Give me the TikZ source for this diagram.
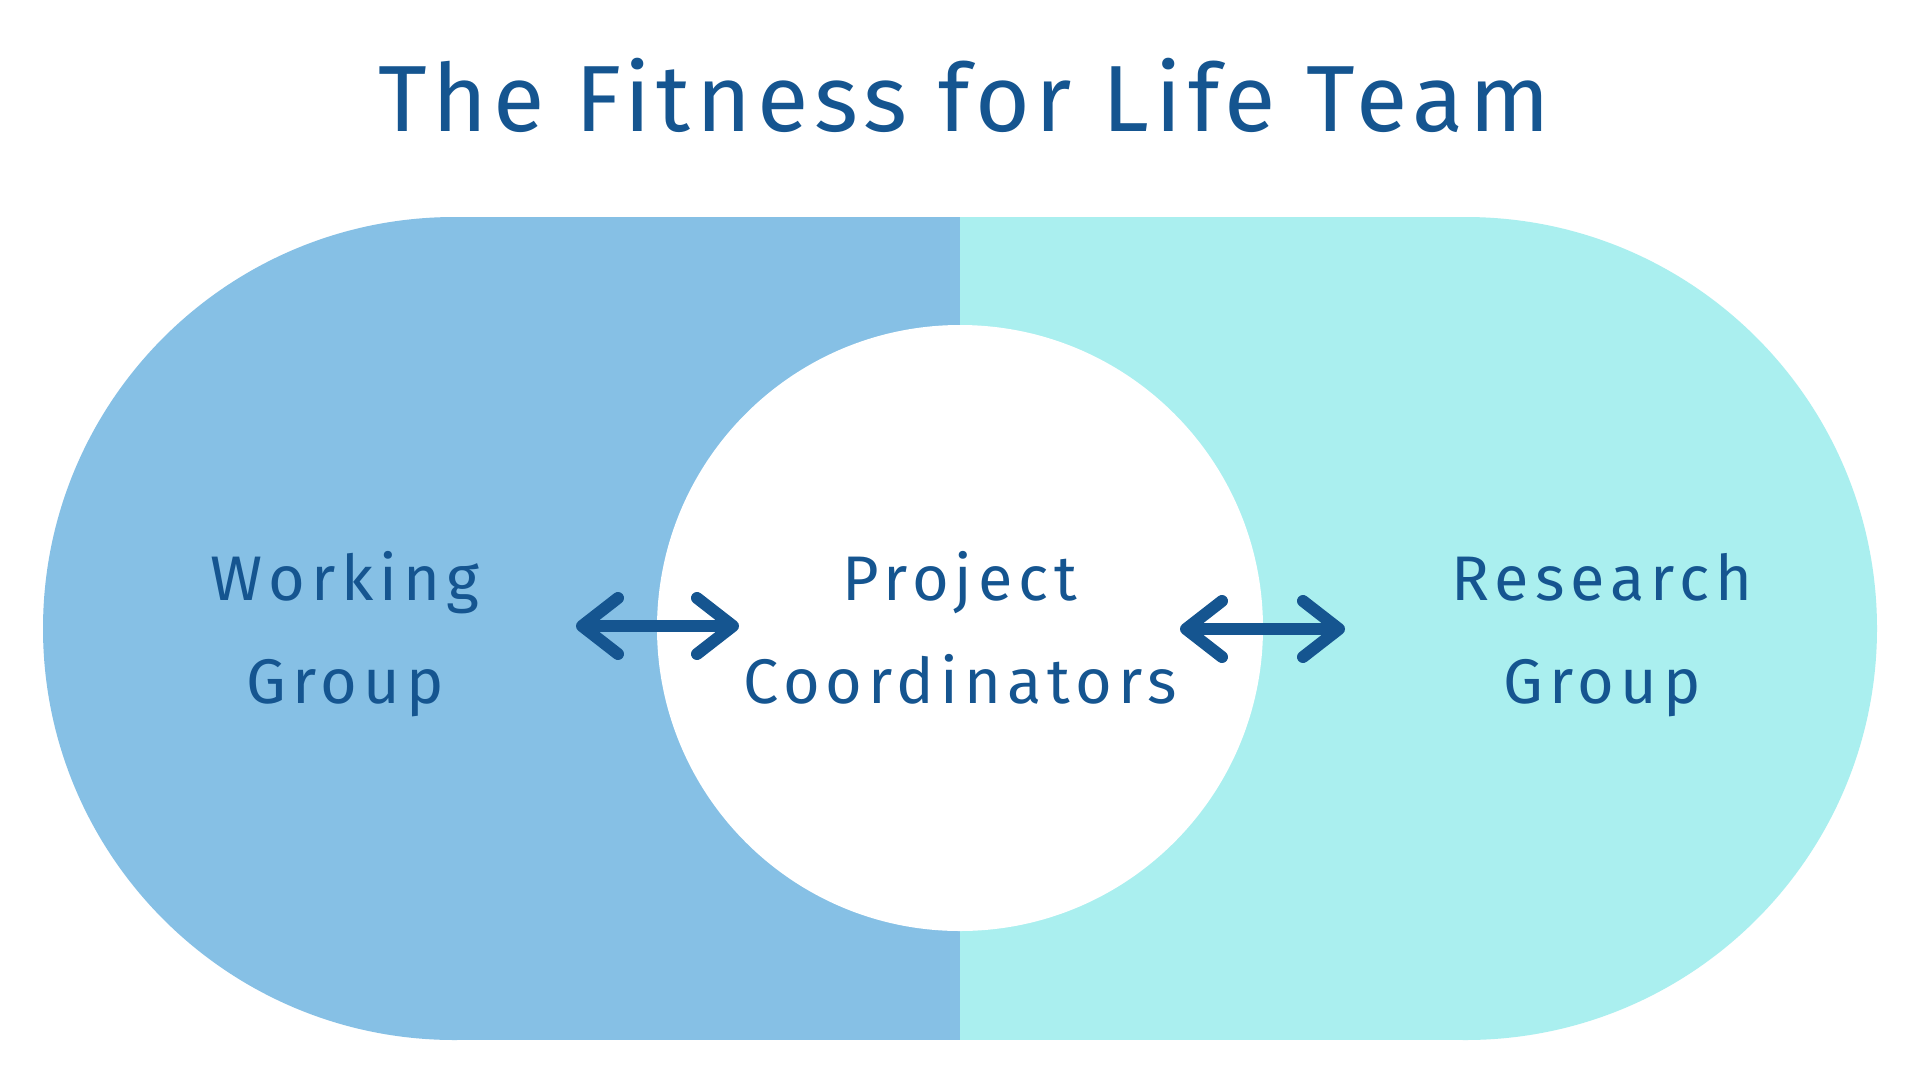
\documentclass[tikz,border=0pt]{standalone}
\usepackage{fontspec}
\newfontfamily\spaced{Fira Sans}[LetterSpace=9.5]
\newfontfamily\titlefont{Fira Sans}[LetterSpace=6.3]
\usetikzlibrary{arrows.meta}
\definecolor{txt}{HTML}{155590}
\definecolor{leftc}{HTML}{86C0E5}
\definecolor{rightc}{HTML}{AAEFEF}
\tikzset{
  label/.style={text=txt, align=center, inner sep=0pt, anchor=base, font=\spaced\fontsize{63}{103}\selectfont},
  twoarrow/.style={draw=txt, line width=12pt, line cap=round, line join=round,
    {Straight Barb[length=36pt, width=56pt, line cap=round, line join=round]}-{Straight Barb[length=36pt, width=56pt, line cap=round, line join=round]}}
}
\begin{document}
\begin{tikzpicture}[x=1pt,y=-1pt]
\useasboundingbox (0,0) rectangle (1920,1080);
\fill[white] (0,0) rectangle (1920,1080);
% left shape
\fill[leftc] (454.5,628.5) circle[radius=411.5];
\fill[leftc] (454.5,217) rectangle (960,1040);
% right shape
\fill[rightc] (1465.5,628.5) circle[radius=411.5];
\fill[rightc] (960,217) rectangle (1465.5,1040);
% center circle
\node[circle, fill=white, minimum size=606pt, inner sep=0pt] (pc) at (960,628) {};
% title
\node[text=txt, inner sep=0pt, anchor=base, font=\titlefont\fontsize{94}{100}\selectfont] (title) at (964,131) {The Fitness for Life Team};
% labels
\node[label] (wg) at (345,703) {Working\\Group};
\node[label] (pcl) at (960,703) {Project\\Coordinators};
\node[label] (rg) at (1602,703) {Research\\Group};
% arrows
\coordinate (l1) at (576,626);
\coordinate (l2) at (739,626);
\coordinate (r1) at (1180,629);
\coordinate (r2) at (1345,629);
\draw[twoarrow] (l1) -- (l2);
\draw[twoarrow] (r1) -- (r2);
\end{tikzpicture}
\end{document}
